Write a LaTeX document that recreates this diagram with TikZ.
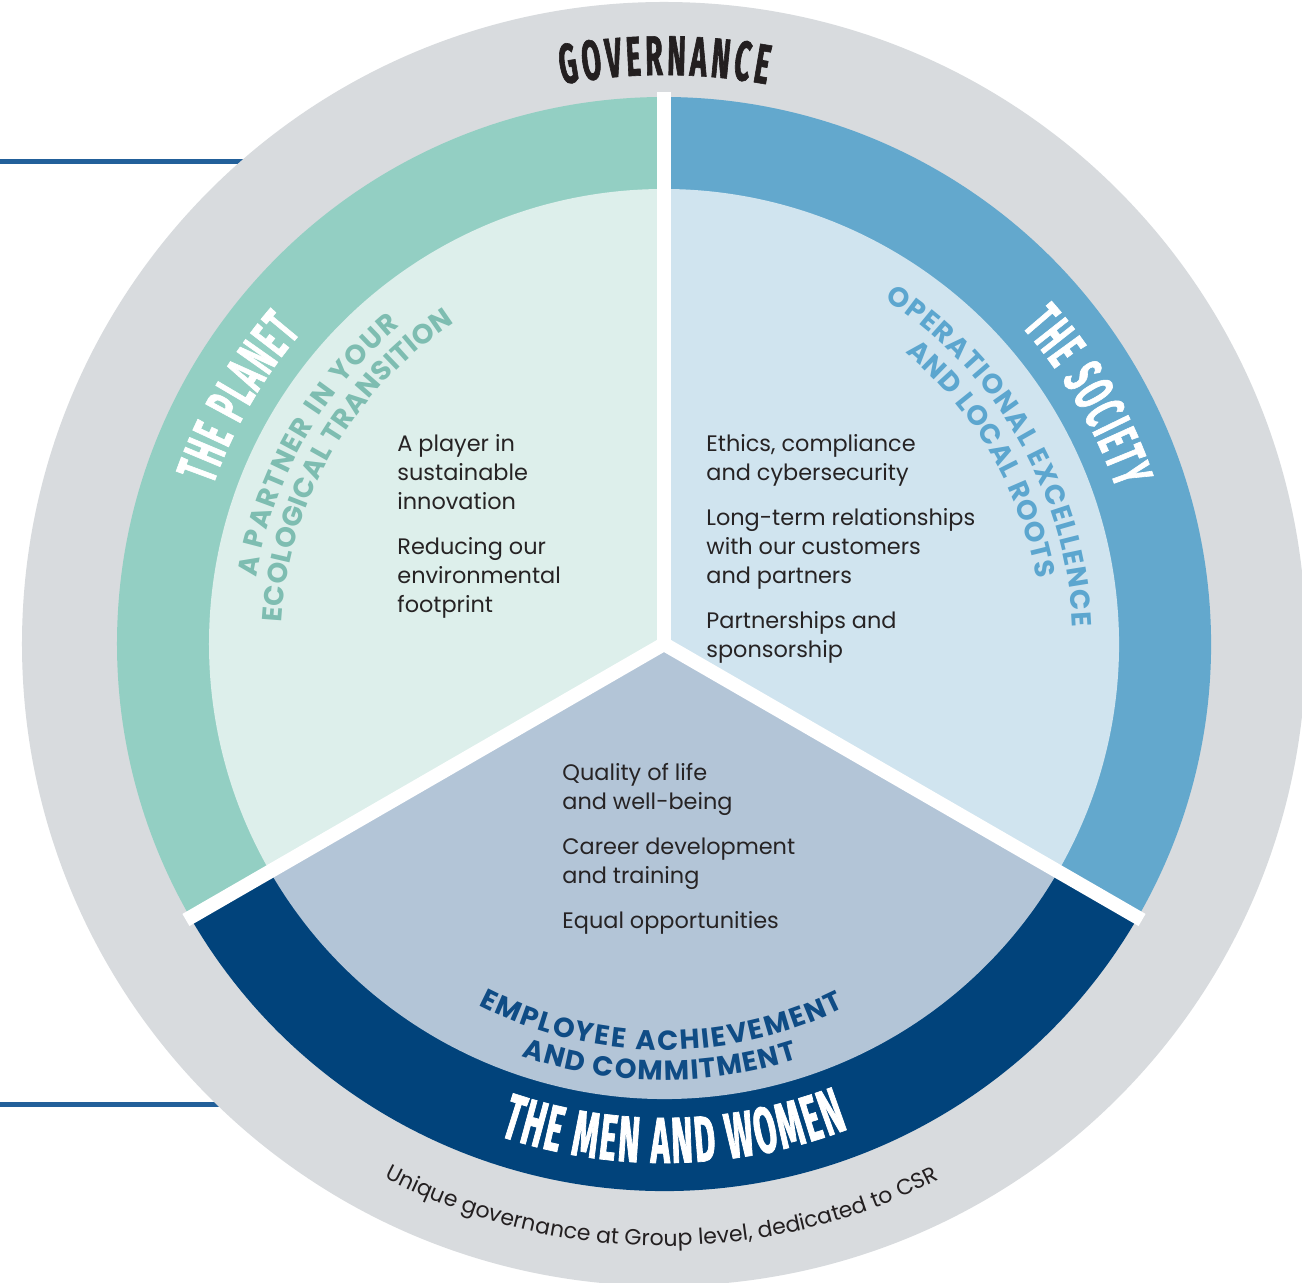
\documentclass[tikz,border=0pt]{standalone}
\usepackage{fontspec}
\setmainfont{Poppins}
\newfontfamily\titlefont[FakeStretch=0.5, FakeBold=1.1]{Fira Sans}
\usetikzlibrary{decorations.text}
\definecolor{govgray}{HTML}{D8DBDE}
\definecolor{planetring}{HTML}{93CFC3}
\definecolor{planetin}{HTML}{DDEFEB}
\definecolor{planetsub}{HTML}{7EBDB1}
\definecolor{socring}{HTML}{63A8CD}
\definecolor{socin}{HTML}{D0E4EF}
\definecolor{socsub}{HTML}{5CA6CF}
\definecolor{menring}{HTML}{01437B}
\definecolor{menin}{HTML}{B3C5D7}
\definecolor{mensub}{HTML}{0F4C85}
\definecolor{govtext}{HTML}{231F20}
\definecolor{bodytxt}{HTML}{262324}
\definecolor{leftline}{HTML}{22609A}
\tikzset{
  bodytext/.style={anchor=north west, inner sep=0pt, align=left, text=bodytxt,
    font=\fontsize{11.2}{14.5}\selectfont},
  sepline/.style={white, line width=7pt},
  sideline/.style={leftline, line width=2.5pt},
}
\newcommand{\titlefmt}[1]{\titlefont\bfseries\fontsize{#1}{#1}\selectfont}
\newcommand{\subfmt}{\bfseries\fontsize{13.8}{16}\selectfont}
\begin{document}
\begin{tikzpicture}[x=0.5pt,y=0.5pt]
\useasboundingbox (-664,-639) rectangle (638,644);
\fill[white] (-664,-639) rectangle (638,644);
% side lines
\coordinate (l1a) at (-664,482.5);
\coordinate (l1b) at (-350,482.5);
\coordinate (l2a) at (-664,-461);
\coordinate (l2b) at (-350,-461);
\draw[sideline] (l1a) -- (l1b);
\draw[sideline] (l2a) -- (l2b);
% governance disc
\fill[govgray] (0,0) circle[radius=642];
% rings
\fill[planetring] (0,0) -- (90:547) arc[start angle=90, end angle=210, radius=547] -- cycle;
\fill[socring] (0,0) -- (-30:547) arc[start angle=-30, end angle=90, radius=547] -- cycle;
\fill[menring] (0,0) -- (210:547) arc[start angle=210, end angle=330, radius=547] -- cycle;
\fill[planetin] (0,0) -- (90:455) arc[start angle=90, end angle=210, radius=455] -- cycle;
\fill[socin] (0,0) -- (-30:455) arc[start angle=-30, end angle=90, radius=455] -- cycle;
\fill[menin] (0,0) -- (210:455) arc[start angle=210, end angle=330, radius=455] -- cycle;
% separators
\coordinate (c) at (0,0);
\coordinate (s1) at (90:552);
\coordinate (s2) at (210:552);
\coordinate (s3) at (330:552);
\draw[sepline] (c) -- (s1);
\draw[sepline] (c) -- (s2);
\draw[sepline] (c) -- (s3);
% curved titles
\path[decorate, decoration={text along path, text align=fit to path, text color=govtext,
  text={|\titlefmt{28}|GOVERNANCE}}]
  (100.3:569) arc[start angle=100.3, end angle=79.6, radius=569];
\path[decorate, decoration={text along path, text align=fit to path, text color=white,
  text={|\titlefmt{28.5}|THE PLANET}}]
  (160.6:478) arc[start angle=160.6, end angle=139.4, radius=478];
\path[decorate, decoration={text along path, text align=fit to path, text color=white,
  text={|\titlefmt{28.5}|THE SOCIETY}}]
  (41.6:478) arc[start angle=41.6, end angle=18.9, radius=478];
\path[decorate, decoration={text along path, text align=fit to path, text color=white,
  text={|\titlefmt{32.5}|THE MEN AND WOMEN}}]
  (251.5:519) arc[start angle=251.5, end angle=290.8, radius=519];
% subtitles
\path[decorate, decoration={text along path, text align=fit to path, text color=planetsub,
  text={|\subfmt|A PARTNER IN YOUR}}]
  (170.8:413) arc[start angle=170.8, end angle=129.7, radius=413];
\path[decorate, decoration={text along path, text align=fit to path, text color=planetsub,
  text={|\subfmt|ECOLOGICAL TRANSITION}}]
  (176.8:383) arc[start angle=176.8, end angle=123.1, radius=383];
\path[decorate, decoration={text along path, text align=fit to path, text color=socsub,
  text={|\subfmt|OPERATIONAL EXCELLENCE}}]
  (57.4:409) arc[start angle=57.4, end angle=2.4, radius=409];
\path[decorate, decoration={text along path, text align=fit to path, text color=socsub,
  text={|\subfmt|AND LOCAL ROOTS}}]
  (50.4:378) arc[start angle=50.4, end angle=9.9, radius=378];
\path[decorate, decoration={text along path, text align=fit to path, text color=mensub,
  text={|\subfmt|EMPLOYEE ACHIEVEMENT}}]
  (242.8:406) arc[start angle=242.8, end angle=296.4, radius=406];
\path[decorate, decoration={text along path, text align=fit to path, text color=mensub,
  text={|\subfmt|AND COMMITMENT}}]
  (250.9:436) arc[start angle=250.9, end angle=287.9, radius=436];
% bottom governance caption
\path[decorate, decoration={text along path, text align=center, text color=govtext,
  text={|\fontsize{11}{12}\selectfont|Unique governance at Group level, dedicated to CSR}}]
  (224.75:602) arc[start angle=224.75, end angle=314.75, radius=602];
% body texts
\node[bodytext] (planettxt) at (-267,210) {A player in\\sustainable\\innovation\\[8pt]Reducing our\\environmental\\footprint};
\node[bodytext] (soctxt) at (42,210) {Ethics, compliance\\and cybersecurity\\[8pt]Long-term relationships\\with our customers\\and partners\\[8pt]Partnerships and\\sponsorship};
\node[bodytext] (mentxt) at (-102,-119) {Quality of life\\and well-being\\[8pt]Career development\\and training\\[8pt]Equal opportunities};
\end{tikzpicture}
\end{document}
